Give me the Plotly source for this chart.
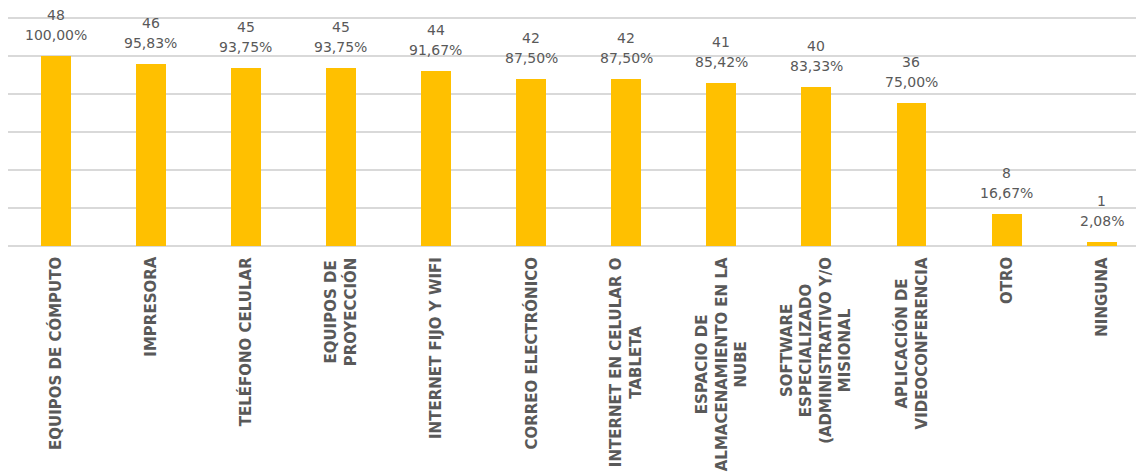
import plotly.graph_objects as go

categories = [
    "EQUIPOS DE CÓMPUTO",
    "IMPRESORA",
    "TELÉFONO CELULAR",
    "EQUIPOS DE<br>PROYECCIÓN",
    "INTERNET FIJO Y WIFI",
    "CORREO ELECTRÓNICO",
    "INTERNET EN CELULAR O<br>TABLETA",
    "ESPACIO DE<br>ALMACENAMIENTO EN LA<br>NUBE",
    "SOFTWARE<br>ESPECIALIZADO<br>(ADMINISTRATIVO Y/O<br>MISIONAL",
    "APLICACIÓN DE<br>VIDEOCONFERENCIA",
    "OTRO",
    "NINGUNA",
]
counts = [48, 46, 45, 45, 44, 42, 42, 41, 40, 36, 8, 1]
percents = [1.0, 0.9583, 0.9375, 0.9375, 0.9167, 0.875, 0.875, 0.8542, 0.8333, 0.75, 0.1667, 0.0208]
pct_labels = ["100,00%", "95,83%", "93,75%", "93,75%", "91,67%", "87,50%", "87,50%",
              "85,42%", "83,33%", "75,00%", "16,67%", "2,08%"]
grid_vals = [0, 0.2, 0.4, 0.6, 0.8, 1.0, 1.2]

xs = list(range(len(categories)))

fig = go.Figure()
fig.add_trace(go.Bar(
    x=xs, y=percents, width=0.315,
    marker=dict(color="#FFC000", line=dict(width=0)),
    hoverinfo="skip",
))

val_font = dict(family="DejaVu Sans", size=14, color="#595959")
for i in xs:
    fig.add_annotation(x=i, y=percents[i], xref="x", yref="y", yanchor="bottom",
                       xanchor="center", yshift=11, text=pct_labels[i],
                       showarrow=False, font=val_font)
    fig.add_annotation(x=i, y=percents[i], xref="x", yref="y", yanchor="bottom",
                       xanchor="center", yshift=31, text=str(counts[i]),
                       showarrow=False, font=val_font)

for i, cat in enumerate(categories):
    fig.add_annotation(
        x=i, y=0, xref="x", yref="paper", yanchor="top", xanchor="center",
        yshift=-9, textangle=-90, text=cat, showarrow=False, align="center",
        font=dict(family="DejaVu Sans", size=15, color="#595959", weight="bold"),
    )

fig.update_layout(
    width=1136, height=468,
    margin=dict(l=0, r=0, t=0, b=230),
    plot_bgcolor="white", paper_bgcolor="white",
    showlegend=False, bargap=0,
    xaxis=dict(range=[-0.5, 11.445], showticklabels=False, showgrid=False,
               zeroline=False, showline=False, ticks=""),
    yaxis=dict(range=[0, 1.25], tickmode="array", tickvals=grid_vals,
               showticklabels=False, showgrid=True,
               gridcolor="#d9d9d9", gridwidth=1.6, zeroline=True,
               zerolinecolor="#d9d9d9", zerolinewidth=1.6, showline=False, ticks=""),
)

fig.write_html("out.html")
